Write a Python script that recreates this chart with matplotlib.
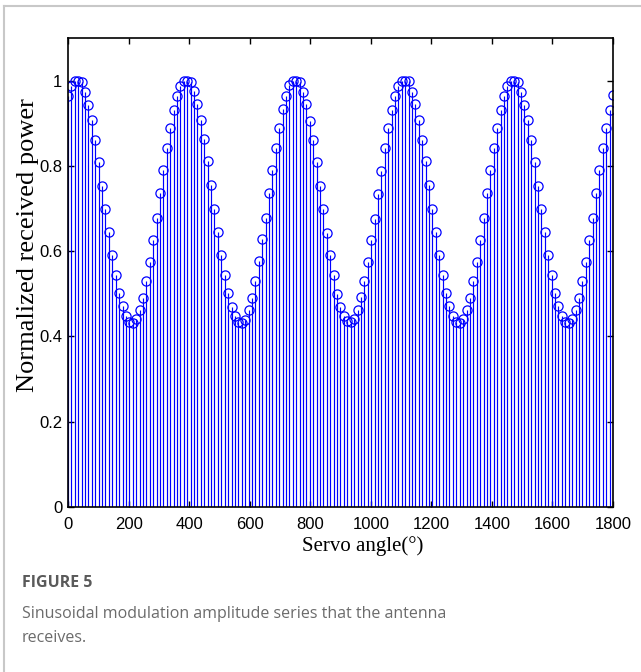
import numpy as np
import matplotlib
matplotlib.use('Agg')  # no display here
import matplotlib.pyplot as plt
from matplotlib.lines import Line2D

plt.rcParams['font.family'] = ['Liberation Sans', 'DejaVu Sans']

# servo steps of 11.25 deg, 0..1800
angle_step = 11.25
angles = np.arange(0, 1800 + angle_step / 2, angle_step)

# normalized received power, one row per revolution (32 samples)
power_rev1 = [0.964, 0.988, 0.999, 1.000, 0.997, 0.973, 0.943, 0.907, 0.860, 0.810, 0.754, 0.699, 0.644, 0.591, 0.544, 0.501,
              0.471, 0.448, 0.435, 0.432, 0.440, 0.462, 0.491, 0.530, 0.575, 0.627, 0.677, 0.736, 0.790, 0.842, 0.889, 0.932]
power_rev2 = [0.964, 0.988, 1.000, 1.000, 0.996, 0.975, 0.945, 0.908, 0.862, 0.811, 0.755, 0.700, 0.645, 0.592, 0.545, 0.502,
              0.470, 0.447, 0.434, 0.431, 0.439, 0.461, 0.490, 0.531, 0.576, 0.628, 0.678, 0.737, 0.791, 0.843, 0.890, 0.933]
power_rev3 = [0.965, 0.989, 1.000, 1.000, 0.997, 0.974, 0.944, 0.906, 0.861, 0.809, 0.753, 0.698, 0.643, 0.590, 0.543, 0.500,
              0.470, 0.448, 0.436, 0.433, 0.441, 0.463, 0.492, 0.529, 0.574, 0.626, 0.676, 0.735, 0.789, 0.841, 0.888, 0.931]
power_rev4 = [0.963, 0.987, 0.999, 1.000, 0.998, 0.974, 0.944, 0.908, 0.861, 0.811, 0.755, 0.699, 0.644, 0.591, 0.544, 0.501,
              0.471, 0.449, 0.435, 0.432, 0.440, 0.462, 0.491, 0.530, 0.575, 0.627, 0.677, 0.736, 0.790, 0.842, 0.889, 0.932]
power_rev5 = [0.964, 0.988, 0.999, 1.000, 0.997, 0.973, 0.943, 0.907, 0.860, 0.810, 0.754, 0.699, 0.644, 0.591, 0.544, 0.501,
              0.471, 0.448, 0.435, 0.432, 0.440, 0.462, 0.491, 0.530, 0.575, 0.627, 0.677, 0.736, 0.790, 0.842, 0.889, 0.932]
power_last = [0.966]
power = power_rev1 + power_rev2 + power_rev3 + power_rev4 + power_rev5 + power_last

x_ticks = [0, 200, 400, 600, 800, 1000, 1200, 1400, 1600, 1800]
y_ticks = [0, 0.2, 0.4, 0.6, 0.8, 1]
y_tick_labels = ['0', '0.2', '0.4', '0.6', '0.8', '1']

fig = plt.figure(figsize=(6.41, 6.72), dpi=100)
ax = fig.add_axes([0.1061, 0.2455, 0.8502, 0.698])

markerline, stemlines, baseline = ax.stem(angles, power, linefmt='-', markerfmt='o', basefmt=' ')
plt.setp(stemlines, color='#0000ff', linewidth=0.85)
plt.setp(markerline, markerfacecolor='none', markeredgecolor='#0000ff', markersize=6.6, markeredgewidth=0.9)

ax.set_xlim(0, 1800)
ax.set_ylim(0, 1.1)
ax.set_xticks(x_ticks)
ax.set_yticks(y_ticks)
ax.set_yticklabels(y_tick_labels)
ax.tick_params(direction='in', top=True, right=True, length=4, width=1, labelsize=12)
ax.tick_params(axis='x', pad=7)
ax.tick_params(axis='y', pad=4)
for sp in ax.spines.values():
    sp.set_linewidth(1.2)

# MATLAB export puts the labels a bit off-centre
ax.set_xlabel('Servo angle(°)', fontfamily='Liberation Serif', fontsize=15)
ax.xaxis.set_label_coords(0.541, -0.062)
ax.set_ylabel('Normalized received power', fontfamily='Liberation Serif', fontsize=19)
ax.yaxis.set_label_coords(-0.053, 0.559)

# page frame + caption like the journal figure
fig.add_artist(Line2D([4 / 641, 4 / 641], [0, 1 - 6 / 672], color='#c8c8c8', linewidth=1.5))
fig.add_artist(Line2D([4 / 641, 1], [1 - 6 / 672, 1 - 6 / 672], color='#c8c8c8', linewidth=1.5))
fig.text(22 / 641, 1 - 583 / 672, 'FIGURE 5', fontfamily='Open Sans', fontweight='bold', fontsize=11.5,
         color='#5a5a5a', va='center')
fig.text(22 / 641, 1 - 614 / 672, 'Sinusoidal modulation amplitude series that the antenna', fontfamily='Open Sans',
         fontsize=11.5, color='#6b6b6b', va='center')
fig.text(22 / 641, 1 - 638 / 672, 'receives.', fontfamily='Open Sans', fontsize=11.5, color='#6b6b6b', va='center')

plt.savefig('out.png', dpi=100, facecolor='white')
plt.close(fig)
